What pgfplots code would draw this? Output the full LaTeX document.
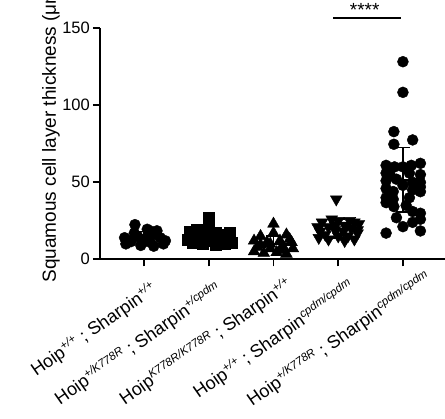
\documentclass[border=0pt]{standalone}
\usepackage{pgfplots}
\pgfplotsset{compat=1.18}
\usepackage{fontspec}
\setmainfont{Liberation Sans}
\newcommand{\sups}[1]{\textsuperscript{\fontsize{11.5}{11.5}\selectfont\itshape #1}}
\begin{document}
\fontsize{18}{21}\selectfont
\begin{tikzpicture}[x=1pt,y=1pt]
\begin{axis}[
  at={(100pt,159.7pt)}, anchor=south west,
  width=345pt, height=231pt, scale only axis,
  xmin=-0.68, xmax=4.65, ymin=0, ymax=150,
  axis x line*=bottom, axis y line*=left,
  axis line style={line width=1.7pt, black},
  every tick/.style={line width=1.7pt, black},
  tick align=outside, major tick length=7pt,
  ytick={0,50,100,150},
  xtick={0,1,2,3,4},
  xticklabels={
    {Hoip\sups{+/+} ; Sharpin\sups{+/+}},
    {Hoip\sups{+/K778R} ; Sharpin\sups{+/cpdm}},
    {Hoip\sups{K778R/K778R} ; Sharpin\sups{+/+}\kern-7pt},
    {Hoip\sups{+/+} ; Sharpin\sups{cpdm/cpdm}\kern-4pt},
    {Hoip\sups{+/K778R} ; Sharpin\sups{cpdm/cpdm}\kern-19pt}},
  xticklabel style={inner sep=0pt, xshift=5.5pt, yshift=-13pt, rotate=35, anchor=north east, font=\fontsize{18}{21}\selectfont},
  yticklabel style={font=\fontsize{16.5}{19}\selectfont, inner sep=3pt},
  /pgf/number format/assume math mode=true,
  ylabel={Squamous cell layer thickness (μm)},
  ylabel style={at={(axis description cs:-0.142,0.55)}, anchor=center, font=\fontsize{19}{21}\selectfont},
  clip=false,
]
% group 1 circles
\addplot[only marks, mark=*, mark size=5.5pt, mark options={fill=black, draw=black}] coordinates {
(-0.14,22.5) (0.05,19.5) (0.2,18.5) (-0.3,14) (-0.22,12) (-0.1,15) (0,13) (0.1,11) (0.25,14) (0.33,12)
(-0.28,10) (-0.05,9) (0.15,8.5) (0.3,10) (-0.15,17) (0.2,16) (0.08,14.5) (-0.2,11.5) (0.12,18) (-0.02,11)};
% group 2 squares
\addplot[only marks, mark=square*, mark size=5.5pt, mark options={fill=black, draw=black}] coordinates {
(1,27) (1,23) (0.7,18) (0.82,19) (0.95,18) (1.1,17) (1.22,16) (1.32,17) (0.68,13) (0.8,12) (0.92,14)
(1.05,12) (1.18,11) (1.3,13) (0.75,10.5) (0.9,10) (1.1,9.5) (1.25,10) (1.0,15) (0.85,15.5) (1.15,14) (1.35,11)};
% group 3 triangles up
\addplot[only marks, mark=triangle*, mark size=6.8pt, mark options={fill=black, draw=black}] coordinates {
(2,23) (2,17) (1.8,15) (2.2,16) (1.7,12) (1.9,11) (2.1,12) (2.28,11) (1.75,8) (1.95,7) (2.15,8) (2.3,7)
(1.7,5) (1.85,4) (2.05,4.5) (2.2,3.5) (1.95,10) (2.1,6) (1.8,9.5) (2.25,13)};
% group 4 triangles down
\addplot[only marks, mark=triangle*, mark size=6.8pt, mark options={fill=black, draw=black, rotate=180}] coordinates {
(2.97,39) (2.9,26) (3.0,25) (2.75,24) (3.25,24) (3.32,23) (2.68,21) (2.85,21) (3.1,22) (3.2,20) (2.72,18)
(2.95,19) (3.08,18) (3.3,17) (2.8,16) (3.15,15) (2.7,14) (3.0,15) (3.25,13) (2.85,13) (3.1,12) (3.3,19) (2.95,22) (3.18,25)};
% group 5 circles
\addplot[only marks, mark=*, mark size=5.5pt, mark options={fill=black, draw=black}] coordinates {
(4,128.3) (4,108.4) (3.86,82.9) (4.15,77.5) (3.86,74.7)
(3.74,61) (4.27,62.3) (3.87,60) (4,60) (4.13,61) (3.74,56) (4.27,55) (3.8,55) (4.1,56)
(3.74,51) (4.27,50) (3.9,52) (4.15,50) (3.74,46) (4.27,47) (4,48) (3.85,44) (4.15,45)
(3.74,40) (4.27,43.9) (3.85,39) (4.1,40) (3.74,36.8) (3.86,34.2) (4.05,35) (4.27,29.9) (4.15,31)
(3.9,27) (4.27,26) (3.74,17) (4,21.2) (4.27,18.4) (4.15,24)};
% mean and SD
\addplot[only marks, black, mark=-, mark size=14pt, mark options={line width=1.7pt},
  error bars/.cd, y dir=both, y explicit,
  error bar style={line width=1.7pt, black},
  error mark options={line width=1.7pt, black, mark size=7pt, rotate=90}] coordinates {
(0,14) +- (0,4)
(1,15) +- (0,5)
(2,10) +- (0,5)
(3,20) +- (0,6)
(4,51.5) +- (0,21)};
\draw[line width=1.7pt] (axis cs:2.92,156.7) -- (axis cs:3.97,156.7);
\node[anchor=base, inner sep=0pt, font=\fontsize{19}{21}\selectfont] at (axis cs:3.41,157.8) {****};
\end{axis}
\pgfresetboundingbox
\path[use as bounding box] (0,0) rectangle (445pt,419pt);
\end{tikzpicture}
\end{document}
